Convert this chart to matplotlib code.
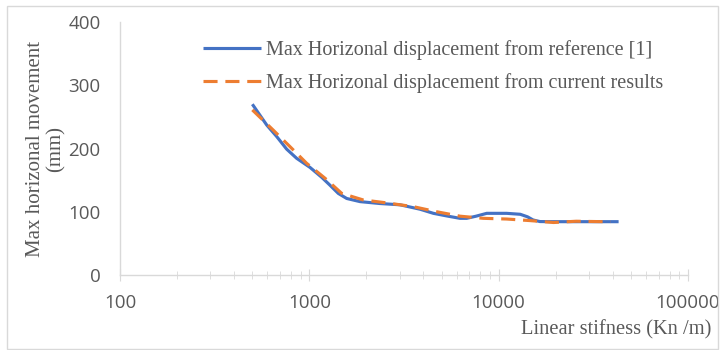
import matplotlib.pyplot as plt
from matplotlib.patches import Rectangle
from matplotlib.ticker import LogLocator, NullFormatter

# values
ref_x = [500, 596, 672, 759, 857, 1009, 1162, 1285, 1422, 1575, 1853, 2362, 3010, 3843,
         4520, 5400, 6250, 6780, 7600, 8650, 11020, 13000, 14200, 15200, 16500, 18660,
         30000, 43000]
ref_y = [270, 237, 219, 199, 184.5, 170, 154.5, 142, 129, 121, 116, 113, 111, 104,
         97.5, 93, 89.6, 89.6, 93, 97.5, 97.5, 96, 92, 87, 84.5, 84.3,
         84.3, 84.3]

cur_x = [500, 645, 790, 968, 1210, 1483, 1929, 2566, 3550, 4710, 6250, 8300, 11020,
         14660, 19500, 25700, 35600, 39000]
cur_y = [261, 229, 203, 176.6, 153, 129, 118.6, 114, 108, 100, 93, 89.6, 88.5,
         86, 83, 85, 84.3, 84.3]

ref_label = "Max Horizonal displacement from reference [1]"
cur_label = "Max Horizonal displacement from current results"
y_label = "Max horizonal movement\n(mm)"
x_label = "Linear stifness (Kn /m)"

blue = "#4472C4"
orange = "#ED7D31"
gray = "#595959"
light = "#D9D9D9"

fig = plt.figure(figsize=(7.21, 3.5), dpi=100)
ax = fig.add_axes([120 / 721, 75 / 350, 568 / 721, 253 / 350])

ax.plot(ref_x, ref_y, color=blue, lw=2.25, solid_capstyle="butt",
        solid_joinstyle="round", label=ref_label)
ax.plot(cur_x, cur_y, color=orange, lw=2.25, dashes=(4.5, 2.5), label=cur_label)

ax.set_xscale("log")
ax.set_xlim(100, 100000)
ax.set_ylim(0, 400)
ax.set_yticks([0, 100, 200, 300, 400])
ax.set_xticks([100, 1000, 10000, 100000])
ax.set_xticklabels(["100", "1000", "10000", "100000"])
ax.xaxis.set_minor_locator(LogLocator(base=10, subs=range(2, 10)))
ax.xaxis.set_minor_formatter(NullFormatter())

for s in ["top", "right"]:
    ax.spines[s].set_visible(False)
for s in ["left", "bottom"]:
    ax.spines[s].set_color(light)
    ax.spines[s].set_linewidth(1.0)

ax.tick_params(axis="x", which="major", direction="inout", length=9, color=light,
               labelcolor=gray, pad=9)
ax.tick_params(axis="x", which="minor", direction="inout", length=6, color=light)
ax.tick_params(axis="y", length=0, labelcolor=gray, pad=14)
for lbl in ax.get_xticklabels() + ax.get_yticklabels():
    lbl.set_fontfamily("Open Sans")
    lbl.set_fontsize(13.5)

ax.set_ylabel(y_label, family="Liberation Serif", fontsize=15, color=gray,
              linespacing=1.1, labelpad=2)
fig.text(711 / 721, 1 - 330 / 350, x_label, family="Liberation Serif", fontsize=14.8,
         color=gray, ha="right", va="center")

leg = ax.legend(loc="upper left", bbox_to_anchor=(0.121, 0.985), frameon=False,
                prop={"family": "Liberation Serif", "size": 14.5}, handlelength=2.9,
                handletextpad=0.25, labelspacing=0.65, borderaxespad=0.3)
for t in leg.get_texts():
    t.set_color(gray)

fig.patches.append(Rectangle((7 / 721, 1 / 350), 711 / 721, 343 / 350,
                             transform=fig.transFigure, fill=False,
                             edgecolor=light, lw=1.0))

fig.savefig("out.png", dpi=100)
